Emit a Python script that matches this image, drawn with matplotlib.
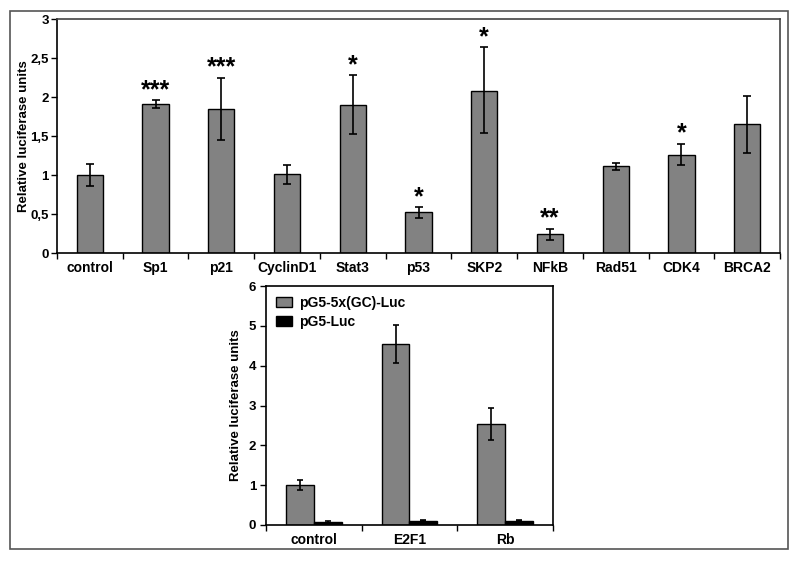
import numpy as np
import matplotlib
matplotlib.use('Agg')
import matplotlib.pyplot as plt
from matplotlib.patches import Rectangle
from matplotlib.ticker import FuncFormatter

plt.rcParams['font.family'] = ['Liberation Sans', 'DejaVu Sans']
plt.rcParams['font.weight'] = 'bold'

# Top panel data
genes = ['control', 'Sp1', 'p21', 'CyclinD1', 'Stat3', 'p53', 'SKP2', 'NFkB', 'Rad51', 'CDK4', 'BRCA2']
gene_vals = [1.0, 1.91, 1.85, 1.01, 1.9, 0.52, 2.08, 0.24, 1.11, 1.26, 1.65]
gene_err_lo = [0.14, 0.05, 0.40, 0.12, 0.38, 0.07, 0.54, 0.07, 0.05, 0.13, 0.37]
gene_err_hi = [0.14, 0.05, 0.40, 0.12, 0.38, 0.07, 0.56, 0.07, 0.04, 0.14, 0.36]
gene_stars = ['', '***', '***', '', '*', '*', '*', '**', '', '*', '']

# Bottom panel data
groups = ['control', 'E2F1', 'Rb']
gc_vals = [1.0, 4.54, 2.53]
gc_err = [0.13, 0.48, 0.40]
luc_vals = [0.08, 0.11, 0.11]
luc_err = [0.02, 0.01, 0.01]

bar_gray = '#828282'

fig = plt.figure(figsize=(8, 5.61), dpi=100)
fig.patch.set_facecolor('white')

# outer frame
fig.add_artist(Rectangle((0.0125, 0.021), 0.9725, 0.959, transform=fig.transFigure,
                         fill=False, edgecolor='#555555', linewidth=1.2))


def comma_fmt(v, pos):
    return ('%g' % v).replace('.', ',')


# ---- top chart ----
ax1 = fig.add_axes([0.07125, 0.549, 0.90375, 0.417])
x = np.arange(len(genes))
ax1.bar(x, gene_vals, width=0.4, color=bar_gray, edgecolor='black', linewidth=1)
ax1.errorbar(x, gene_vals, yerr=[gene_err_lo, gene_err_hi], fmt='none', ecolor='black',
             elinewidth=1.2, capsize=3, capthick=1.2)
# significance stars just above the error bars
for xi, v, e, s in zip(x, gene_vals, gene_err_hi, gene_stars):
    if s:
        ax1.text(xi, v + e + 0.04, s, ha='center', va='baseline', fontsize=18, fontweight='bold')
ax1.set_xlim(-0.5, len(genes) - 0.5)
ax1.set_ylim(0, 3)
ax1.set_yticks(np.arange(0, 3.01, 0.5))
ax1.yaxis.set_major_formatter(FuncFormatter(comma_fmt))
ax1.set_xticks(x)
ax1.set_xticklabels(genes)
ax1.set_xticks(np.arange(-0.5, len(genes)), minor=True)
ax1.tick_params(axis='x', which='major', length=0, pad=6, labelsize=10)
ax1.tick_params(axis='x', which='minor', length=4, width=1)
ax1.tick_params(axis='y', length=4, width=1, labelsize=9.5, pad=2)
ax1.set_ylabel('Relative luciferase units', fontsize=9.5, fontweight='bold')
ax1.yaxis.set_label_coords(-0.037, 0.5)
for sp in ax1.spines.values():
    sp.set_linewidth(1.2)
ax1.spines['top'].set_color('#444444')
ax1.spines['right'].set_color('#444444')

# ---- bottom chart ----
ax2 = fig.add_axes([0.3325, 0.0642, 0.3587, 0.4258])
x2 = np.arange(len(groups))
w = 0.29
ax2.bar(x2 - w / 2, gc_vals, width=w, color=bar_gray, edgecolor='black', linewidth=1,
        label='pG5-5x(GC)-Luc')
ax2.bar(x2 + w / 2, luc_vals, width=w, color='black', edgecolor='black', linewidth=1,
        label='pG5-Luc')
ax2.errorbar(x2 - w / 2, gc_vals, yerr=gc_err, fmt='none', ecolor='black',
             elinewidth=1.2, capsize=2, capthick=1.2)
ax2.errorbar(x2 + w / 2, luc_vals, yerr=luc_err, fmt='none', ecolor='black',
             elinewidth=1.2, capsize=2, capthick=1.2)
ax2.set_xlim(-0.5, len(groups) - 0.5)
ax2.set_ylim(0, 6)
ax2.set_yticks(range(0, 7))
ax2.set_xticks(x2)
ax2.set_xticklabels(groups)
ax2.set_xticks(np.arange(-0.5, len(groups)), minor=True)
ax2.tick_params(axis='x', which='major', length=0, pad=6, labelsize=10)
ax2.tick_params(axis='x', which='minor', length=4, width=1)
ax2.tick_params(axis='y', length=4, width=1, labelsize=9.5, pad=3)
ax2.set_ylabel('Relative luciferase units', fontsize=9.5, fontweight='bold')
ax2.yaxis.set_label_coords(-0.084, 0.5)
for sp in ax2.spines.values():
    sp.set_linewidth(1.2)
leg = ax2.legend(loc='upper left', frameon=False, fontsize=10, handlelength=1.2,
                 handleheight=0.7, borderaxespad=0.3, labelspacing=0.35, handletextpad=0.5)

fig.savefig('out.png', dpi=100, facecolor='white')
